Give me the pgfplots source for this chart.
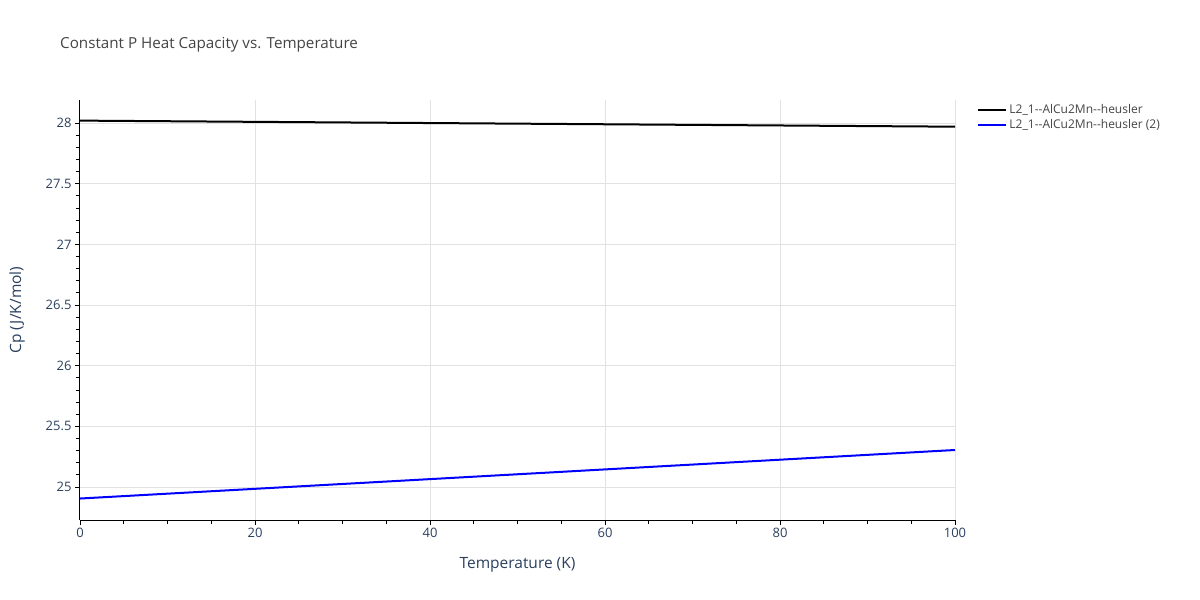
\documentclass[border=0pt]{standalone}
\usepackage{fontspec}
\setmainfont{Open Sans}
\usepackage{pgfplots}
\pgfplotsset{compat=1.18}
\definecolor{ticklab}{HTML}{2A3F5F}
\definecolor{titlec}{HTML}{444444}
\definecolor{gridc}{HTML}{E2E2E2}
\begin{document}
\begin{tikzpicture}[x=1pt,y=1pt]
\path[use as bounding box] (0,0) rectangle (1200,600);
\node[anchor=west,text=titlec,font=\fontsize{15.2}{18}\selectfont,inner sep=0pt] at (60,555) {Constant P Heat Capacity vs. Temperature};
\begin{axis}[
  at={(80pt,80pt)}, anchor=south west,
  width=875pt, height=420pt, scale only axis,
  xmin=0, xmax=100, ymin=24.728, ymax=28.19,
  axis x line*=bottom, axis y line*=left,
  axis line style={black, line width=1pt},
  xtick={0,20,40,60,80,100},
  ytick={25,25.5,26,26.5,27,27.5,28},
  yticklabels={25,25.5,26,26.5,27,27.5,28},
  minor x tick num=3, minor y tick num=4,
  tick align=outside,
  major tick length=5pt, minor tick length=4pt,
  tick style={black, line width=0.8pt},
  grid=major, major grid style={gridc, line width=1pt},
  ticklabel style={text=ticklab, font=\fontsize{13}{15}\selectfont},
  /pgf/number format/assume math mode=true,
  xlabel={Temperature (K)}, ylabel={Cp (J/K/mol)},
  label style={text=ticklab, font=\fontsize{15.5}{18}\selectfont},
  xlabel style={yshift=-12pt},
  ylabel style={yshift=14pt},
  legend style={at={(1.022,1.0)}, anchor=north west, draw=none, fill=none,
    font=\fontsize{12}{14}\selectfont, text=titlec, row sep=1pt,
    legend cell align=left},
  legend image code/.code={\draw[#1, line width=2pt] (0pt,0pt) -- (28pt,0pt);},
]
\addplot[black, line width=2pt] coordinates {
(0,28.020) (10,28.015) (20,28.010) (30,28.005) (40,28.000) (50,27.995)
(60,27.990) (70,27.985) (80,27.980) (90,27.975) (100,27.970)};
\addlegendentry{L2\_1{-}{-}AlCu2Mn{-}{-}heusler}
\addplot[blue, line width=2pt] coordinates {
(0,24.905) (10,24.945) (20,24.985) (30,25.025) (40,25.065) (50,25.105)
(60,25.145) (70,25.185) (80,25.225) (90,25.265) (100,25.305)};
\addlegendentry{L2\_1{-}{-}AlCu2Mn{-}{-}heusler (2)}
\end{axis}
\end{tikzpicture}
\end{document}
